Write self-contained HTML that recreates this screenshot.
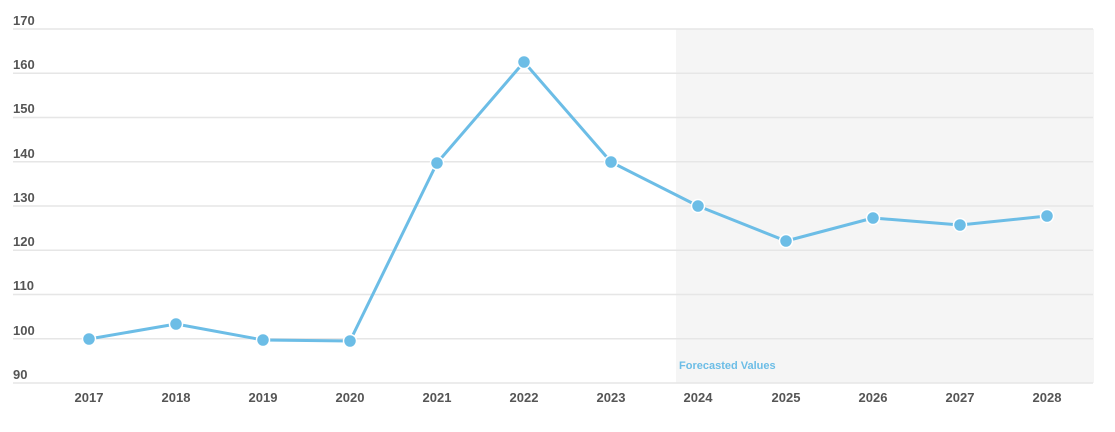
<!DOCTYPE html>
<html><head><style>body{margin:0;background:#fff}svg{display:block}</style></head><body>
<svg width="1115" height="432" xmlns="http://www.w3.org/2000/svg" font-family="Liberation Sans, sans-serif">
<rect x="676" y="29" width="418" height="354" fill="#f5f5f5"/>
<g stroke="#e6e6e6" stroke-width="1.5">
<line x1="13" x2="1093" y1="29" y2="29"/><line x1="13" x2="1093" y1="73.3" y2="73.3"/>
<line x1="13" x2="1093" y1="117.5" y2="117.5"/><line x1="13" x2="1093" y1="161.8" y2="161.8"/>
<line x1="13" x2="1093" y1="206" y2="206"/><line x1="13" x2="1093" y1="250.3" y2="250.3"/>
<line x1="13" x2="1093" y1="294.5" y2="294.5"/><line x1="13" x2="1093" y1="338.8" y2="338.8"/>
<line x1="13" x2="1093" y1="383" y2="383"/>
</g>
<g fill="#555" font-size="13" font-weight="bold">
<text x="13" y="25">170</text><text x="13" y="69">160</text><text x="13" y="113">150</text>
<text x="13" y="158">140</text><text x="13" y="202">130</text><text x="13" y="246">120</text>
<text x="13" y="290">110</text><text x="13" y="335">100</text><text x="13" y="379">90</text>
</g>
<g fill="#555" font-size="13" font-weight="bold" text-anchor="middle">
<text x="89" y="402">2017</text><text x="176" y="402">2018</text><text x="263" y="402">2019</text>
<text x="350" y="402">2020</text><text x="437" y="402">2021</text><text x="524" y="402">2022</text>
<text x="611" y="402">2023</text><text x="698" y="402">2024</text><text x="786" y="402">2025</text>
<text x="873" y="402">2026</text><text x="960" y="402">2027</text><text x="1047" y="402">2028</text>
</g>
<text x="679" y="369" fill="#6cbde6" font-size="11" font-weight="bold">Forecasted Values</text>
<polyline fill="none" stroke="#6cbde6" stroke-width="3" stroke-linejoin="round" points="89,339 176,324 263,340 350,341 437,163 524,62 611,162 698,206 786,241 873,218 960,225 1047,216"/>
<g fill="#6cbde6" stroke="#fff" stroke-width="1.5">
<circle cx="89" cy="339" r="6.5"/><circle cx="176" cy="324" r="6.5"/><circle cx="263" cy="340" r="6.5"/>
<circle cx="350" cy="341" r="6.5"/><circle cx="437" cy="163" r="6.5"/><circle cx="524" cy="62" r="6.5"/>
<circle cx="611" cy="162" r="6.5"/><circle cx="698" cy="206" r="6.5"/><circle cx="786" cy="241" r="6.5"/>
<circle cx="873" cy="218" r="6.5"/><circle cx="960" cy="225" r="6.5"/><circle cx="1047" cy="216" r="6.5"/>
</g>
</svg>
</body></html>
